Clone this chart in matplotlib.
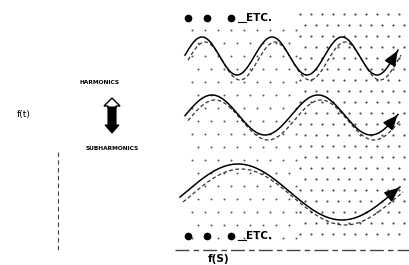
import numpy as np
import matplotlib
matplotlib.use("Agg")
import matplotlib.pyplot as plt
from matplotlib.patches import Polygon

# wave parameters (pixel units of the reference)
wave_names = ["harmonic", "fundamental", "subharmonic"]
wave_centers = [56, 115, 192]
wave_amps = [19, 20, 28]
wave_periods = [70, 106, 208]
wave_peaks = [272, 318, 238]
wave_starts = [185, 185, 180]
wave_ends = [398, 398, 400]

labels_left = ["HARMONICS", "SUBHARMONICS"]
axis_labels = ["f(t)", "f(S)"]
etc_text = "ETC."

fig = plt.figure(figsize=(4.1, 2.65), dpi=100)
ax = fig.add_axes([0, 0, 1, 1])
ax.set_xlim(0, 410)
ax.set_ylim(265, 0)
ax.axis("off")

# stipple background (regular staggered texture)
def stipple(x0, x1, y0, y1, step, size, color):
    ys = np.arange(y0, y1, step)
    for i, yy in enumerate(ys):
        xs = np.arange(x0 + (step / 2 if i % 2 else 0), x1, step)
        ax.scatter(xs, np.full_like(xs, yy, dtype=float), s=size, color=color,
                   lw=0, zorder=0)

stipple(192, 300, 30, 240, 13, 2.0, "#555555")
stipple(300, 410, 14, 240, 11, 2.4, "#444444")

for c, a, p, pk, s, e in zip(wave_centers, wave_amps, wave_periods, wave_peaks,
                             wave_starts, wave_ends):
    x = np.linspace(s, e, 400)
    y = c - a * np.cos(2 * np.pi * (x - pk) / p)
    ax.plot(x, y, color="black", lw=1.1, zorder=3)
    ax.plot(x + 3, y + 5, color="#333333", lw=0.9, ls=(0, (3, 2)), zorder=2)
    # arrow head
    dx = x[-1] - x[-8]
    dy = y[-1] - y[-8]
    n = np.hypot(dx, dy)
    ax.annotate("", xy=(x[-1] + dx / n * 2, y[-1] + dy / n * 2), xytext=(x[-8], y[-8]),
                arrowprops=dict(arrowstyle="-|>,head_length=0.9,head_width=0.38",
                                color="black", lw=1.1), zorder=4)

# top and bottom "• • • ETC."
for yy in (18, 236):
    for xx in (188, 207, 231):
        ax.plot(xx, yy, "o", color="black", ms=4.5, zorder=4)
    ax.text(246, yy, etc_text, fontsize=7.5, fontweight="bold", ha="left",
            va="center", family="DejaVu Sans", zorder=4)
    ax.plot([238, 246], [yy + 4, yy + 4], color="black", lw=0.8)

# left texts
ax.text(100, 82, labels_left[0], fontsize=4.2, fontweight="bold", ha="center",
        va="center", family="DejaVu Sans")
ax.text(112, 149, labels_left[1], fontsize=4.2, fontweight="bold", ha="center",
        va="center", family="DejaVu Sans")
ax.text(24, 115, axis_labels[0], fontsize=6.5, ha="center", va="center",
        family="DejaVu Sans")
ax.text(219, 259, axis_labels[1], fontsize=7.5, fontweight="bold", ha="center",
        va="center", family="DejaVu Sans")

# double arrow
ax.add_patch(Polygon([(104, 106), (112, 98), (120, 106), (116, 106), (116, 108),
                      (108, 108), (108, 106)], closed=True, facecolor="white",
                     edgecolor="black", lw=1.0, zorder=4))
ax.add_patch(Polygon([(108, 107), (116, 107), (116, 125), (119, 125), (112, 133),
                      (105, 125), (108, 125)], closed=True, facecolor="black",
                     edgecolor="black", lw=0.8, zorder=4))

# axes lines
ax.plot([58, 58], [152, 250], color="#444444", lw=0.8, ls=(0, (4, 3)))
ax.plot([175, 410], [250, 250], color="#444444", lw=1.0, ls=(0, (10, 3, 4, 3)))

fig.savefig("out.png", dpi=100)
